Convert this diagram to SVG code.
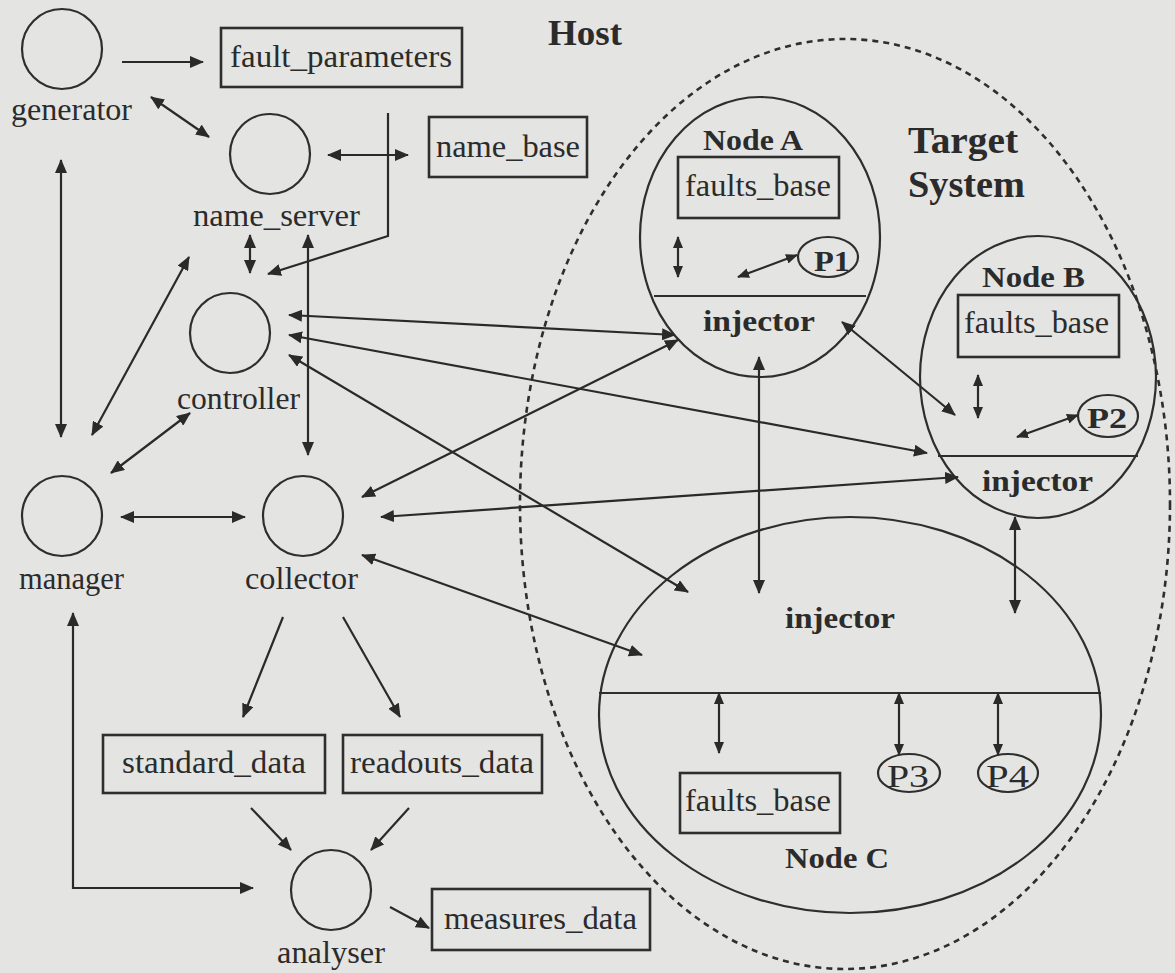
<svg xmlns="http://www.w3.org/2000/svg" width="1175" height="973" viewBox="0 0 1175 973">
<defs>
<marker id="ah" viewBox="0 0 14 12" refX="13" refY="6" markerWidth="14" markerHeight="12" markerUnits="userSpaceOnUse" orient="auto-start-reverse"><path d="M0,0 L14,6 L0,12 z" fill="#2a2a2a"/></marker>
<marker id="as" viewBox="0 0 12 10" refX="11" refY="5" markerWidth="12" markerHeight="10" markerUnits="userSpaceOnUse" orient="auto-start-reverse"><path d="M0,0 L12,5 L0,10 z" fill="#2a2a2a"/></marker>
<style>
.bg{fill:#e4e4e2}
.c{fill:none;stroke:#2e2e2e;stroke-width:2.2}
.r{fill:none;stroke:#2e2e2e;stroke-width:2.6}
.t{font-family:"Liberation Serif","Times New Roman",serif;font-size:31px;fill:#2b2b2b}
.b{font-family:"Liberation Serif","Times New Roman",serif;font-size:30px;font-weight:bold;fill:#2b2b2b}
.big{font-size:37px}
.host{font-size:35px}
.l{fill:none;stroke:#2a2a2a;stroke-width:2.2}
.d{marker-end:url(#ah)}
.dd{marker-start:url(#ah);marker-end:url(#ah)}
.s{marker-start:url(#as);marker-end:url(#as)}
</style>
</defs>
<rect class="bg" x="0" y="0" width="1175" height="973"/>

<g id="target-system">
<ellipse cx="845" cy="504" rx="325" ry="465" fill="none" stroke="#2e2e2e" stroke-width="2.6" stroke-dasharray="6 5"/>
<text class="b big" x="908" y="153" textLength="110" lengthAdjust="spacingAndGlyphs">Target</text>
<text class="b big" x="908" y="197" textLength="117" lengthAdjust="spacingAndGlyphs">System</text>
</g>
<g id="host-label"><text class="b host" x="548" y="45" textLength="74" lengthAdjust="spacingAndGlyphs">Host</text></g>

<g id="generator"><circle class="c" cx="62" cy="49" r="40"/><text class="t" x="11" y="120" textLength="121" lengthAdjust="spacingAndGlyphs">generator</text></g>
<g id="fault_parameters"><rect class="r" x="221" y="28" width="241" height="59"/><text class="t" x="230" y="67" textLength="222" lengthAdjust="spacingAndGlyphs">fault_parameters</text></g>
<g id="name_server"><circle class="c" cx="270" cy="154" r="40"/><text class="t" x="193" y="226" textLength="167" lengthAdjust="spacingAndGlyphs">name_server</text></g>
<g id="name_base"><rect class="r" x="429" y="117" width="158" height="60"/><text class="t" x="436" y="157" textLength="144" lengthAdjust="spacingAndGlyphs">name_base</text></g>
<g id="controller"><circle class="c" cx="230" cy="333" r="40"/><text class="t" x="177" y="409" textLength="123" lengthAdjust="spacingAndGlyphs">controller</text></g>
<g id="manager"><circle class="c" cx="62" cy="516" r="40"/><text class="t" x="19" y="589" textLength="105" lengthAdjust="spacingAndGlyphs">manager</text></g>
<g id="collector"><circle class="c" cx="303" cy="516" r="40"/><text class="t" x="245" y="589" textLength="113" lengthAdjust="spacingAndGlyphs">collector</text></g>
<g id="standard_data"><rect class="r" x="103" y="735" width="222" height="58"/><text class="t" x="122" y="773" textLength="184" lengthAdjust="spacingAndGlyphs">standard_data</text></g>
<g id="readouts_data"><rect class="r" x="343" y="735" width="199" height="58"/><text class="t" x="350" y="773" textLength="184" lengthAdjust="spacingAndGlyphs">readouts_data</text></g>
<g id="analyser"><circle class="c" cx="331" cy="890" r="40"/><text class="t" x="277" y="963" textLength="108" lengthAdjust="spacingAndGlyphs">analyser</text></g>
<g id="measures_data"><rect class="r" x="432" y="889" width="218" height="61"/><text class="t" x="444" y="929" textLength="193" lengthAdjust="spacingAndGlyphs">measures_data</text></g>

<g id="node-a">
<ellipse class="c" cx="760" cy="237" rx="120" ry="140"/>
<line class="c" x1="654" y1="296" x2="866" y2="296"/>
<text class="b" x="703" y="150" textLength="100" lengthAdjust="spacingAndGlyphs">Node A</text>
<rect class="r" x="678" y="157" width="161" height="61"/>
<text class="t" x="685" y="196" textLength="146" lengthAdjust="spacingAndGlyphs">faults_base</text>
<ellipse class="c" cx="828" cy="257" rx="30" ry="20"/>
<text class="b" x="814" y="271" textLength="36" lengthAdjust="spacingAndGlyphs">P1</text>
<text class="b" x="703" y="331" textLength="112" lengthAdjust="spacingAndGlyphs">injector</text>
</g>
<g id="node-b">
<ellipse class="c" cx="1038" cy="377" rx="118" ry="141"/>
<line class="c" x1="938" y1="456" x2="1138" y2="456"/>
<text class="b" x="982" y="287" textLength="103" lengthAdjust="spacingAndGlyphs">Node B</text>
<rect class="r" x="958" y="295" width="161" height="62"/>
<text class="t" x="964" y="333" textLength="145" lengthAdjust="spacingAndGlyphs">faults_base</text>
<ellipse class="c" cx="1108" cy="416" rx="30" ry="21"/>
<text class="b" x="1087" y="428" textLength="40" lengthAdjust="spacingAndGlyphs">P2</text>
<text class="b" x="982" y="491" textLength="111" lengthAdjust="spacingAndGlyphs">injector</text>
</g>
<g id="node-c">
<ellipse class="c" cx="850" cy="715" rx="251" ry="198"/>
<line class="c" x1="599" y1="693" x2="1101" y2="693"/>
<text class="b" x="785" y="628" textLength="110" lengthAdjust="spacingAndGlyphs">injector</text>
<rect class="r" x="680" y="773" width="160" height="60"/>
<text class="t" x="685" y="811" textLength="146" lengthAdjust="spacingAndGlyphs">faults_base</text>
<ellipse class="c" cx="909" cy="773" rx="31" ry="19"/>
<text class="t" x="887" y="787" textLength="42" lengthAdjust="spacingAndGlyphs">P3</text>
<ellipse class="c" cx="1008" cy="773" rx="30" ry="19"/>
<text class="t" x="986" y="787" textLength="43" lengthAdjust="spacingAndGlyphs">P4</text>
<text class="b" x="785" y="868" textLength="104" lengthAdjust="spacingAndGlyphs">Node C</text>
</g>

<g id="connectors">
<line class="l d" x1="122" y1="62" x2="203" y2="62"/>
<line class="l dd" x1="151" y1="97" x2="209" y2="137"/>
<line class="l dd" x1="328" y1="155" x2="408" y2="155"/>
<polyline class="l d" points="388,113 388,236 268,274"/>
<line class="l dd" x1="250" y1="235" x2="250" y2="273"/>
<line class="l dd" x1="308" y1="235" x2="308" y2="455"/>
<line class="l dd" x1="61" y1="160" x2="61" y2="437"/>
<line class="l dd" x1="92" y1="435" x2="189" y2="257"/>
<line class="l dd" x1="111" y1="473" x2="190" y2="413"/>
<line class="l dd" x1="121" y1="517" x2="245" y2="517"/>
<line class="l d" x1="283" y1="617" x2="243" y2="717"/>
<line class="l d" x1="343" y1="617" x2="400" y2="717"/>
<line class="l d" x1="251" y1="808" x2="291" y2="850"/>
<line class="l d" x1="409" y1="808" x2="371" y2="850"/>
<polyline class="l dd" points="73,613 73,888 253,888"/>
<line class="l d" x1="390" y1="907" x2="429" y2="928"/>
<line class="l dd" x1="289" y1="315" x2="675" y2="335"/>
<line class="l dd" x1="289" y1="335" x2="927" y2="453"/>
<line class="l dd" x1="289" y1="355" x2="688" y2="592"/>
<line class="l dd" x1="362" y1="497" x2="678" y2="340"/>
<line class="l dd" x1="381" y1="517" x2="958" y2="477"/>
<line class="l dd" x1="362" y1="555" x2="642" y2="655"/>
<line class="l dd" x1="842" y1="322" x2="955" y2="415"/>
<line class="l dd" x1="759" y1="357" x2="759" y2="593"/>
<line class="l dd" x1="1015" y1="517" x2="1015" y2="613"/>
<line class="l s" x1="678" y1="237" x2="678" y2="277"/>
<line class="l s" x1="738" y1="277" x2="797" y2="255"/>
<line class="l s" x1="978" y1="375" x2="978" y2="418"/>
<line class="l s" x1="1017" y1="437" x2="1078" y2="415"/>
<line class="l s" x1="719" y1="693" x2="719" y2="753"/>
<line class="l s" x1="899" y1="693" x2="899" y2="755"/>
<line class="l s" x1="998" y1="693" x2="998" y2="755"/>
</g>
</svg>
